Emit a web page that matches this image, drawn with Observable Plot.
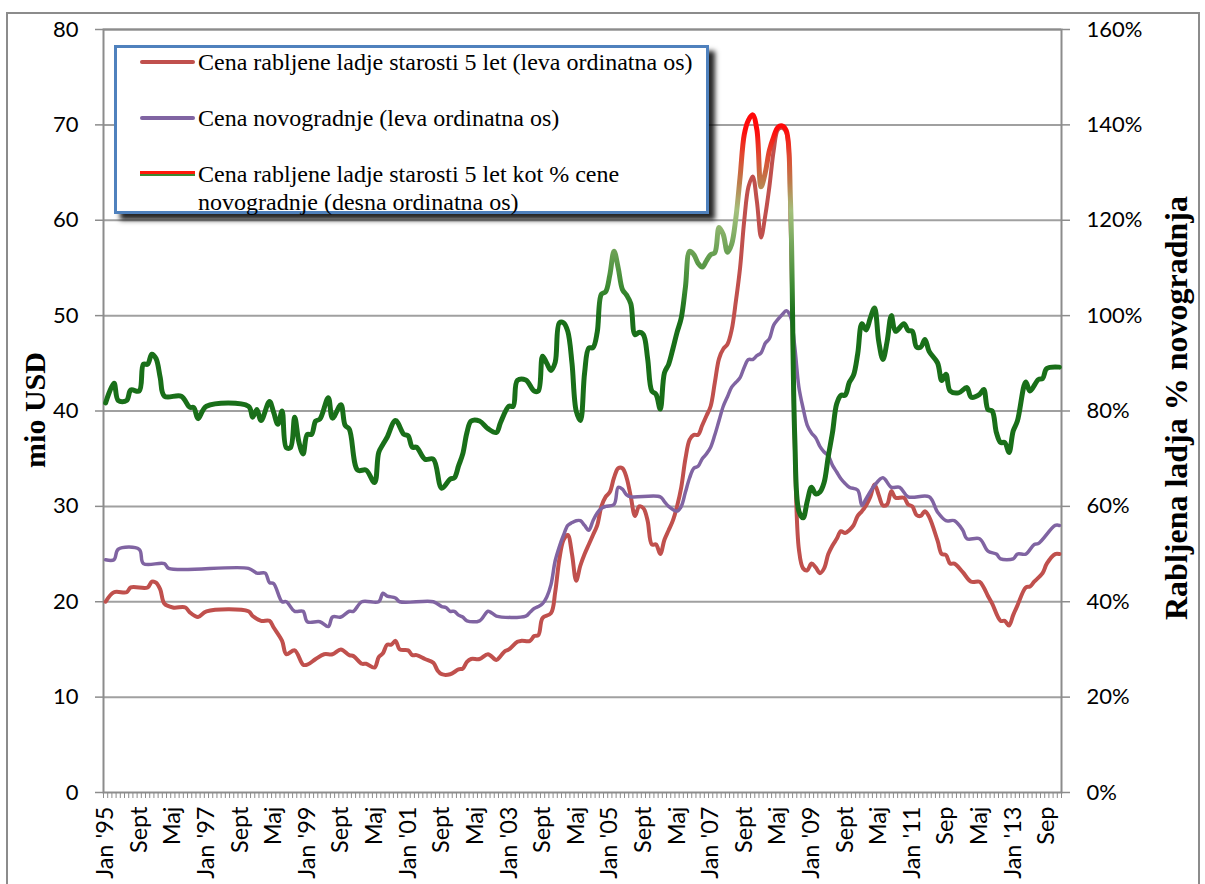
<!DOCTYPE html>
<html>
<head>
<meta charset="utf-8">
<script src="https://cdn.jsdelivr.net/npm/d3@7"></script>
<script src="https://cdn.jsdelivr.net/npm/@observablehq/plot@0.6"></script>
<style>
  html, body { margin: 0; padding: 0; background: #fff; overflow: hidden; }
  #wrap { position: relative; width: 1205px; height: 884px; overflow: hidden; }
  #wrap svg { position: absolute; left: 0; top: 0; }
  #outline { position: absolute; left: 6px; top: 12px; width: 1194px; height: 920px;
             border: 2px solid #8c8c8c; box-sizing: border-box; }
  .axis-title { position: absolute; font-family: "Liberation Serif", "Times New Roman", serif;
                font-weight: bold; white-space: nowrap; color: #000;
                transform: translate(-50%, -50%) rotate(-90deg); }
  #legend { position: absolute; left: 114px; top: 45px; width: 595px; height: 169px;
            box-sizing: border-box; border: 3px solid #4f81bd; background: #fff;
            box-shadow: 6px 6px 5px rgba(0,0,0,0.85);
            font-family: "Liberation Serif", "Times New Roman", serif; font-size: 24px; color: #000; }
  .key { position: absolute; left: 23px; width: 55px; }
  .label { position: absolute; left: 81px; line-height: 28px; white-space: nowrap; }
</style>
</head>
<body>
<div id="wrap">
  <div id="outline"></div>
</div>
<script>
// Monthly ship prices, Jan 1995 - Dec 2013. Months are counted from Jan 1995 (0 = Jan '95).
const monthCount = 228;

// Price of a 5-year-old second-hand ship, mio USD (left axis)
const usedMonth = [0, 2, 5, 6, 10, 11, 12, 13, 14, 16, 19, 20, 22, 24, 34, 35, 37, 39, 40, 42,
  43, 45, 47, 48, 50, 52, 54, 56, 58, 59, 61, 62, 64, 65, 66, 67, 68, 69, 70, 72,
  73, 74, 76, 78, 79, 80, 82, 84, 85, 86, 87, 89, 91, 93, 94, 95, 96, 98, 99, 101,
  102, 103, 104, 106, 107, 108, 109, 110, 111, 112, 113, 114, 115, 116, 117, 118, 119, 120, 121, 122,
  123, 124, 125, 126, 127, 128, 129, 130, 131, 132, 133, 134, 135, 136, 137, 138, 139, 140, 141, 142,
  143, 144, 145, 146, 147, 148, 149, 150, 151, 152, 153, 154, 155, 156, 157, 158, 159, 160, 161, 162,
  163, 164, 165, 166, 167, 168, 169, 170, 171, 172, 173, 174, 175, 176, 177, 178, 179, 180, 181, 182,
  183, 184, 185, 186, 187, 188, 190, 191, 192, 193, 194, 195, 196, 198, 199, 200, 201, 202, 204, 206,
  208, 209, 210, 211, 213, 214, 215, 216, 217, 219, 220, 221, 223, 224, 226, 227];
const usedPrice = [20.0, 21.0, 21.0, 21.5, 21.5, 22.1, 22.0, 21.3, 19.8, 19.4, 19.4, 18.9, 18.4, 19.0, 19.0, 18.5, 18.0, 18.0, 17.3, 15.9,
  14.5, 14.9, 13.4, 13.4, 14.0, 14.5, 14.5, 15.0, 14.4, 14.3, 13.5, 13.5, 13.1, 14.2, 14.6, 15.5, 15.5, 15.9, 15.0, 14.9,
  14.4, 14.4, 14.0, 13.6, 12.8, 12.4, 12.4, 12.9, 13.0, 13.7, 14.0, 14.0, 14.5, 13.9, 14.3, 14.8, 15.0, 15.8, 15.9, 15.9,
  16.4, 16.5, 18.3, 18.8, 21.0, 24.5, 26.5, 27.0, 25.0, 22.2, 23.8, 25.0, 26.0, 27.0, 28.0, 30.0, 31.0, 31.5, 33.0, 34.0,
  34.0, 33.0, 31.0, 29.0, 30.0, 29.8, 28.5, 26.0, 26.0, 25.0, 26.5, 27.5, 28.5, 30.0, 32.0, 35.0, 37.0, 37.5, 37.5, 38.5,
  39.5, 40.5, 43.0, 45.5, 46.5, 47.0, 48.5, 51.5, 55.0, 60.0, 63.5, 64.6, 62.0, 58.2, 60.5, 63.6, 67.3, 69.5, 69.7, 69.2,
  60.0, 37.0, 25.5, 23.5, 23.3, 24.0, 23.6, 23.0, 23.5, 25.0, 25.9, 26.6, 27.4, 27.2, 27.5, 28.0, 29.0, 29.5, 30.1, 31.0,
  32.3, 31.2, 30.1, 30.2, 31.6, 30.9, 30.9, 30.2, 30.0, 29.1, 29.0, 29.5, 28.9, 26.4, 25.0, 24.9, 24.0, 24.0, 23.1, 22.1,
  22.1, 21.5, 20.6, 19.8, 18.0, 18.0, 17.5, 18.6, 19.6, 21.5, 21.6, 22.1, 23.0, 24.0, 25.0, 25.0];

// Price of a newbuilding, mio USD (left axis)
const newMonth = [0, 2, 3, 8, 9, 14, 15, 34, 36, 38, 39, 40, 42, 43, 45, 47, 48, 51, 53, 54,
  56, 58, 59, 61, 65, 66, 67, 69, 70, 78, 80, 81, 82, 83, 84, 85, 86, 89, 91, 92,
  93, 100, 101, 102, 103, 104, 105, 106, 107, 108, 109, 110, 111, 112, 113, 114, 115, 116, 117, 118,
  119, 121, 122, 123, 124, 125, 132, 133, 134, 136, 137, 138, 139, 140, 141, 142, 143, 144, 145, 146,
  147, 148, 149, 150, 151, 152, 153, 154, 155, 156, 157, 158, 159, 160, 161, 162, 163, 164, 165, 166,
  167, 168, 169, 170, 171, 172, 173, 174, 175, 176, 177, 179, 180, 181, 183, 185, 187, 189, 191, 196,
  198, 200, 202, 204, 205, 208, 210, 212, 213, 216, 217, 219, 221, 222, 226, 227];
const newPrice = [24.4, 24.4, 25.5, 25.5, 24.0, 24.0, 23.5, 23.5, 23.0, 23.0, 22.0, 21.9, 20.0, 20.0, 19.0, 19.0, 17.9, 17.9, 17.4, 18.4,
  18.4, 19.0, 19.0, 20.0, 20.0, 20.9, 20.6, 20.4, 20.0, 20.0, 19.5, 19.4, 19.0, 19.0, 18.6, 18.4, 18.0, 18.0, 19.0, 18.8,
  18.5, 18.5, 18.9, 19.3, 19.5, 19.8, 20.5, 21.8, 24.3, 25.8, 27.0, 28.0, 28.3, 28.5, 28.5, 28.0, 27.5, 28.5, 29.3, 29.8,
  30.0, 30.2, 32.0, 31.8, 31.2, 31.0, 31.0, 30.5, 30.0, 29.5, 30.0, 31.5, 33.0, 34.0, 34.2, 35.0, 35.5, 36.2, 37.5, 39.0,
  40.5, 41.5, 42.5, 43.0, 43.5, 44.6, 45.4, 45.4, 45.8, 46.1, 47.1, 47.6, 49.0, 49.6, 50.1, 50.5, 49.9, 46.8, 42.5, 40.3,
  38.5, 37.7, 37.2, 36.3, 35.7, 35.3, 34.3, 33.6, 32.9, 32.4, 32.0, 31.7, 30.1, 30.8, 32.2, 33.0, 32.0, 32.0, 31.0, 31.0,
  29.4, 28.5, 28.5, 27.5, 26.6, 26.6, 25.3, 25.0, 24.5, 24.5, 25.0, 25.0, 26.0, 26.1, 28.0, 28.0];

// Second-hand price as % of the newbuilding price (right axis)
const ratioMonth = [0, 2, 3, 5, 6, 8, 9, 10, 11, 12, 13, 14, 18, 20, 21, 22, 24, 34, 35, 36,
  37, 39, 40, 41, 42, 43, 44, 45, 46, 47, 48, 49, 50, 51, 53, 54, 56, 57, 58, 60,
  62, 64, 65, 66, 67, 69, 71, 72, 73, 74, 76, 78, 80, 82, 83, 84, 85, 86, 87, 89,
  91, 93, 94, 96, 97, 98, 100, 102, 103, 104, 105, 106, 107, 108, 109, 110, 111, 112, 113, 114,
  115, 116, 117, 118, 119, 120, 121, 122, 123, 124, 125, 126, 127, 128, 129, 130, 131, 132, 133, 134,
  135, 136, 137, 138, 139, 140, 141, 142, 143, 144, 145, 146, 147, 148, 149, 150, 151, 152, 153, 154,
  155, 156, 157, 158, 159, 160, 161, 162, 163, 164, 165, 166, 167, 168, 169, 170, 171, 172, 173, 174,
  175, 176, 177, 178, 179, 180, 181, 182, 183, 184, 185, 186, 187, 188, 190, 191, 192, 193, 194, 195,
  196, 198, 199, 200, 201, 203, 205, 206, 208, 209, 210, 211, 212, 213, 214, 215, 216, 217, 219, 220,
  222, 223, 224, 227];
const ratioPct = [81.7, 85.8, 82.2, 82.2, 84.4, 84.2, 89.8, 89.8, 91.9, 91.0, 87.0, 83.1, 83.1, 80.8, 80.7, 78.4, 81.0, 81.0, 78.7, 80.3,
  78.0, 82.0, 79.7, 77.2, 80.0, 72.3, 72.3, 78.7, 73.5, 71.0, 75.1, 75.1, 77.9, 78.3, 82.8, 78.5, 81.3, 77.0, 76.2, 67.6,
  67.6, 65.0, 71.3, 73.0, 74.5, 78.0, 75.1, 74.8, 72.4, 72.4, 69.9, 69.9, 63.8, 65.7, 66.0, 68.5, 71.0, 75.5, 77.9, 77.9,
  76.3, 75.5, 77.6, 81.0, 81.0, 86.4, 86.5, 84.2, 84.2, 91.5, 90.0, 88.5, 90.2, 98.5, 98.5, 96.7, 90.0, 80.0, 78.0, 88.0,
  93.2, 93.3, 96.5, 104.5, 105.0, 108.5, 113.5, 110.0, 105.5, 104.3, 102.5, 96.0, 96.5, 96.0, 91.0, 84.2, 83.5, 80.4, 88.0, 89.8,
  93.0, 96.5, 99.5, 106.0, 113.5, 112.8, 111.0, 110.2, 111.5, 112.8, 113.2, 118.5, 117.0, 113.3, 115.0, 120.5, 129.0, 138.0, 141.0, 142.1,
  139.0, 127.0, 130.0, 134.7, 137.5, 139.5, 139.8, 138.8, 124.0, 75.0, 59.0, 57.6, 61.1, 64.0, 62.6, 63.0, 65.0, 70.5, 75.5, 81.5,
  83.3, 83.3, 86.0, 87.5, 92.0, 98.3, 97.0, 99.5, 101.6, 94.6, 90.8, 94.6, 100.0, 96.7, 98.3, 96.9, 96.7, 93.4, 93.4, 95.0,
  92.5, 90.1, 86.4, 87.7, 84.2, 83.8, 84.9, 82.9, 83.5, 84.5, 80.3, 80.0, 75.5, 73.4, 73.4, 71.3, 75.8, 77.9, 86.1, 84.2,
  86.6, 86.8, 88.9, 89.2];

// Axis ticks
const leftTicks = [0, 10, 20, 30, 40, 50, 60, 70, 80];
const rightTicks = [0, 20, 40, 60, 80, 100, 120, 140, 160];   // percent
const xLabels = ["Jan '95", "Sept", "Maj", "Jan '97", "Sept", "Maj", "Jan '99", "Sept", "Maj", "Jan '01",
  "Sept", "Maj", "Jan '03", "Sept", "Maj", "Jan '05", "Sept", "Maj", "Jan '07", "Sept",
  "Maj", "Jan '09", "Sept", "Maj", "Jan '11", "Sep", "Maj", "Jan '13", "Sep"];
const labelStep = 8; // a label every eight months

// Legend entries
const seriesNames = [
  "Cena rabljene ladje starosti 5 let (leva ordinatna os)",
  "Cena novogradnje (leva ordinatna os)",
  "Cena rabljene ladje starosti 5 let kot % cene novogradnje (desna ordinatna os)"
];
const leftTitle = "mio USD";
const rightTitle = "Rabljena ladja % novogradnja";

// ---- derived tables ----
const pctPerUnit = rightTicks[rightTicks.length - 1] / leftTicks[leftTicks.length - 1]; // 160% ↔ 80
const used = usedMonth.map((m, i) => ({month: m, value: usedPrice[i]}));
const newb = newMonth.map((m, i) => ({month: m, value: newPrice[i]}));
const ratio = ratioMonth.map((m, i) => ({month: m, value: ratioPct[i] / pctPerUnit}));
const labelMonths = xLabels.map((_, i) => i * labelStep);
const labelByMonth = new Map(labelMonths.map((m, i) => [m, xLabels[i]]));
const monthEdges = d3.range(monthCount + 1).map(i => i - 0.5);

const axisGray = "#8c8c8c";
const gridGray = "#a0a0a0";
const RED = "#c0504d", PURPLE = "#8064a2";

const chart = Plot.plot({
  width: 1205,
  height: 884,
  marginLeft: 103,
  marginRight: 144,
  marginTop: 29,
  marginBottom: 92,
  style: {fontFamily: "Lato, 'Open Sans', sans-serif", color: "#000", background: "transparent", overflow: "visible"},
  x: {type: "linear", domain: [-0.5, monthCount - 0.5]},
  y: {domain: [leftTicks[0], leftTicks[leftTicks.length - 1]]},
  marks: [
    Plot.ruleY(leftTicks.slice(1), {stroke: gridGray, strokeWidth: 2}),
    Plot.frame({stroke: axisGray, strokeWidth: 2}),
    Plot.axisY({anchor: "left", ticks: leftTicks, tickSize: 8, tickPadding: 17, stroke: axisGray,
      strokeWidth: 1.5, fontSize: 22, label: null}),
    Plot.axisY({anchor: "right", ticks: rightTicks.map(p => p / pctPerUnit),
      tickFormat: d => `${Math.round(d * pctPerUnit)}%`, tickSize: 8, tickPadding: 17,
      stroke: axisGray, strokeWidth: 1.5, fontSize: 22, label: null}),
    Plot.axisX({ticks: monthEdges, tickSize: 6, tickFormat: () => "", stroke: axisGray,
      strokeWidth: 1, label: null}),
    Plot.axisX({ticks: labelMonths, tickFormat: d => labelByMonth.get(d), tickRotate: -90,
      tickSize: 0, tickPadding: 14, fontSize: 23.5, label: null}),
    Plot.line(used, {x: "month", y: "value", stroke: RED, strokeWidth: 4, curve: "catmull-rom"}),
    Plot.line(newb, {x: "month", y: "value", stroke: PURPLE, strokeWidth: 3.5, curve: "catmull-rom"}),
    Plot.line(ratio, {x: "month", y: "value", stroke: "url(#ratioGradient)", strokeWidth: 5, curve: "catmull-rom"})
  ]
});

// Vertical colour gradient of the % line: dark green up to 100 %, through light green to red near 140 %
const gradientStops = [
  {pct: 100, color: "#196f19"},
  {pct: 106, color: "#3c8a32"},
  {pct: 114, color: "#6fa357"},
  {pct: 122, color: "#a3c07c"},
  {pct: 128, color: "#bd7c4b"},
  {pct: 134, color: "#e2442e"},
  {pct: 139, color: "#ff0a0a"}
];
const ns = "http://www.w3.org/2000/svg";
const yScale = chart.scale("y");
const defs = document.createElementNS(ns, "defs");
const grad = document.createElementNS(ns, "linearGradient");
grad.setAttribute("id", "ratioGradient");
grad.setAttribute("gradientUnits", "userSpaceOnUse");
const p0 = gradientStops[0].pct, p1 = gradientStops[gradientStops.length - 1].pct;
grad.setAttribute("x1", 0);
grad.setAttribute("x2", 0);
grad.setAttribute("y1", yScale.apply(p0 / pctPerUnit));
grad.setAttribute("y2", yScale.apply(p1 / pctPerUnit));
for (const s of gradientStops) {
  const stop = document.createElementNS(ns, "stop");
  stop.setAttribute("offset", (s.pct - p0) / (p1 - p0));
  stop.setAttribute("stop-color", s.color);
  grad.appendChild(stop);
}
defs.appendChild(grad);
chart.insertBefore(defs, chart.firstChild);

const wrap = document.getElementById("wrap");
wrap.appendChild(chart);

// Axis titles
const lt = document.createElement("div");
lt.className = "axis-title";
lt.style.left = "35px"; lt.style.top = "410px"; lt.style.fontSize = "30px";
lt.textContent = leftTitle;
wrap.appendChild(lt);
const rt = document.createElement("div");
rt.className = "axis-title";
rt.style.left = "1176px"; rt.style.top = "408px"; rt.style.fontSize = "32px";
rt.textContent = rightTitle;
wrap.appendChild(rt);

// Legend box
const legend = document.createElement("div");
legend.id = "legend";
legend.innerHTML = `
  <div class="key" style="top:12px;height:4px;background:${RED};border-radius:2px"></div>
  <div class="label" style="top:0px">${seriesNames[0]}</div>
  <div class="key" style="top:68px;height:4px;background:${PURPLE};border-radius:2px"></div>
  <div class="label" style="top:56px">${seriesNames[1]}</div>
  <div class="key" style="top:123px;height:2.5px;background:#ff1a0a"></div>
  <div class="key" style="top:125.5px;height:2.5px;background:#3c8a32"></div>
  <div class="label" style="top:112px;white-space:normal;width:460px">${seriesNames[2]}</div>`;
wrap.appendChild(legend);
</script>
</body>
</html>
